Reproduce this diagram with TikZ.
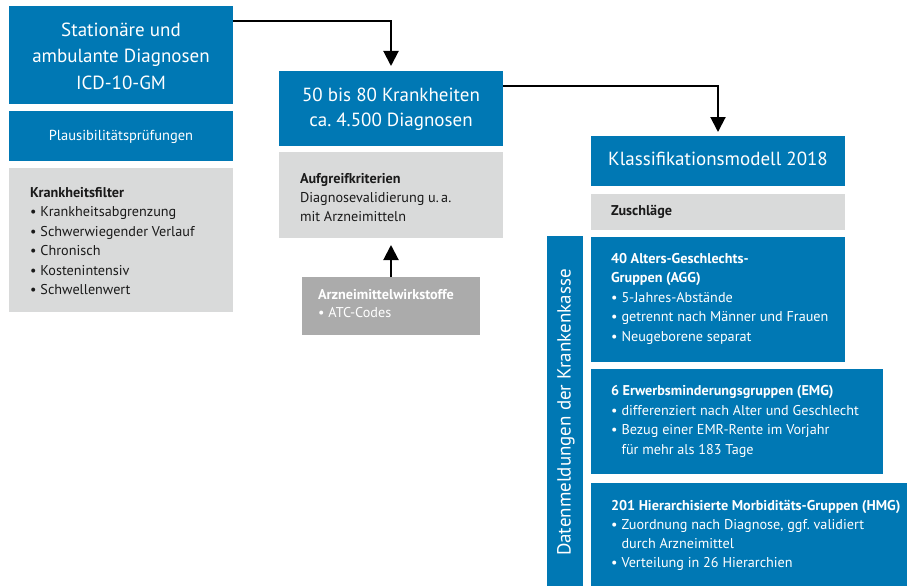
\documentclass[tikz,border=0pt]{standalone}
\usepackage{fontspec}
\setmainfont{PT Sans}
\frenchspacing
\usetikzlibrary{arrows.meta}
\definecolor{kblue}{RGB}{0,120,180}
\definecolor{klight}{RGB}{217,218,218}
\definecolor{kdark}{RGB}{171,171,171}
\definecolor{ktext}{RGB}{26,26,26}
\newcommand{\bul}{\makebox[10.5pt][l]{•}}
\newcommand{\ind}{\hspace*{10.5pt}}
\begin{document}
\begin{tikzpicture}[x=1pt,y=-1pt,
  box/.style={rectangle,inner sep=0pt,anchor=north west,outer sep=0pt},
  bluebox/.style={box,fill=kblue},
  lightbox/.style={box,fill=klight},
  darkbox/.style={box,fill=kdark},
  txt/.style={inner sep=0pt,outer sep=0pt,anchor=base west,align=left},
  ctxt/.style={inner sep=0pt,outer sep=0pt,anchor=base,align=center},
  white/.style={text=white},
  dark/.style={text=ktext},
  titlefont/.style={font=\fontsize{19}{26.5}\selectfont},
  listfont/.style={font=\fontsize{14.2}{19.5}\selectfont},
  arr/.style={line width=2pt,-{Triangle[width=15pt,length=15pt]}}]
\useasboundingbox (0,0) rectangle (907,586);
% boxes
\node[bluebox,minimum width=224pt,minimum height=98pt] (b1) at (9,6) {};
\node[bluebox,minimum width=224pt,minimum height=50pt] (b2) at (9,111) {};
\node[lightbox,minimum width=224pt,minimum height=144pt] (b3) at (9,168) {};
\node[bluebox,minimum width=224pt,minimum height=75pt] (m1) at (279,71) {};
\node[lightbox,minimum width=224pt,minimum height=86pt] (m2) at (279,152) {};
\node[darkbox,minimum width=178pt,minimum height=58pt] (az) at (302,277) {};
\node[bluebox,minimum width=254pt,minimum height=50pt] (k1) at (591,136) {};
\node[lightbox,minimum width=254pt,minimum height=36pt] (k2) at (591,194) {};
\node[bluebox,minimum width=254pt,minimum height=125pt] (k3) at (591,237) {};
\node[bluebox,minimum width=292pt,minimum height=105pt] (k4) at (591,369) {};
\node[bluebox,minimum width=316pt,minimum height=103pt] (k5) at (591,483) {};
\node[bluebox,minimum width=36pt,minimum height=350pt] (v) at (547,236) {};
% texts (positioned at the baseline of their last line)
\node[ctxt,white,titlefont] (b1t) at (121,89) {Stationäre und\\ambulante Diagnosen\\ICD-10-GM};
\node[ctxt,white,font=\fontsize{14.5}{18}\selectfont] (b2t) at (121,140) {Plausibilitätsprüfungen};
\node[txt,dark,listfont] (b3t) at (30,294.5)
  {\textbf{Krankheitsfilter}\\\bul Krankheitsabgrenzung\\\bul Schwerwiegender Verlauf\\\bul Chronisch\\\bul Kostenintensiv\\\bul Schwellenwert};
\node[ctxt,white,font=\fontsize{19}{25}\selectfont] (m1t) at (391,126) {50 bis 80 Krankheiten\\ca. 4.500 Diagnosen};
\node[txt,dark,font=\fontsize{14.2}{19}\selectfont] (m2t) at (300,221)
  {\textbf{Aufgreifkriterien}\\Diagnosevalidierung u.\,a.\\mit Arzneimitteln};
\node[txt,white,font=\fontsize{14.2}{18}\selectfont] (azt) at (318,317)
  {\textbf{Arzneimittelwirkstoffe}\\\bul ATC-Codes};
\node[ctxt,white,titlefont] (k1t) at (718,165) {Klassifikationsmodell 2018};
\node[txt,dark,listfont] (k2t) at (611,215) {\textbf{Zuschläge}};
\node[txt,white,listfont] (k3t) at (611,341)
  {\textbf{40 Alters-Geschlechts-}\\\textbf{Gruppen (AGG)}\\\bul 5-Jahres-Abstände\\\bul getrennt nach Männer und Frauen\\\bul Neugeborene separat};
\node[txt,white,font=\fontsize{14.2}{19.4}\selectfont] (k4t) at (611,454)
  {\textbf{6 Erwerbsminderungsgruppen (EMG)}\\\bul differenziert nach Alter und Geschlecht\\\bul Bezug einer EMR-Rente im Vorjahr\\\ind für mehr als 183 Tage};
\node[txt,white,font=\fontsize{14.2}{19}\selectfont] (k5t) at (611,567)
  {\textbf{201 Hierarchisierte Morbiditäts-Gruppen (HMG)}\\\bul Zuordnung nach Diagnose, ggf. validiert\\\ind durch Arzneimittel\\\bul Verteilung in 26 Hierarchien};
\node[white,font=\fontsize{19}{24}\selectfont,rotate=90,inner sep=0pt] (vt) at (566,412.5) {Datenmeldungen der Krankenkasse};
% arrows
\draw[arr] ([yshift=-15pt]b1.north east) -| ([yshift=5pt]m1.north);
\draw[arr] ([yshift=-15pt]m1.north east) -| ([yshift=4pt]k1.north);
\draw[arr] (az.north) -- ([yshift=-7pt]m2.south);
\end{tikzpicture}
\end{document}
